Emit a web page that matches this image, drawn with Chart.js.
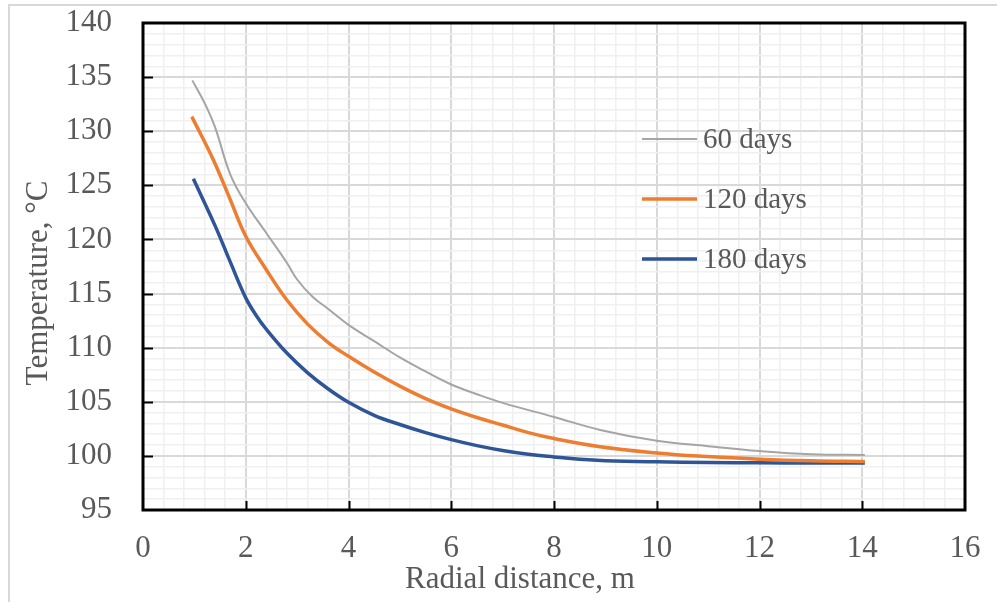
<!DOCTYPE html>
<html lang="en">
<head>
  <meta charset="UTF-8" />
  <title>Temperature vs radial distance</title>
  <script src="https://cdn.jsdelivr.net/npm/chart.js"></script>
  <style>
    body {
      margin: 0;
      background: #fff;
    }
    #frame {
      position: absolute;
      left: 8px;
      top: 4px;
      width: 1000px;
      height: 620px;
      border-left: 2px solid #d9d9d9;
      border-top: 2px solid #d9d9d9;
    }
    canvas {
      position: absolute;
      left: 0;
      top: 0;
    }
  </style>
</head>
<body>
  <div id="frame"></div>
  <canvas id="grafico" width="997" height="602"></canvas>

  <script>
    // radial distance (m) and temperature (°C) for each period
    const r60 = [0.96, 1.2, 1.4, 1.7, 2.0, 2.4, 2.8, 3.0, 3.3, 3.6, 4.0, 4.5, 5.0, 5.5, 6.0, 6.5, 7.0, 8.0, 8.9, 10.0, 11.0, 12.0, 13.0, 14.05];
    const t60 = [134.7, 132.6, 130.4, 126.0, 123.35, 120.6, 117.85, 116.3, 114.7, 113.6, 112.1, 110.6, 109.1, 107.8, 106.6, 105.7, 104.9, 103.6, 102.4, 101.4, 100.9, 100.45, 100.15, 100.08];

    const r120 = [0.95, 1.37, 1.7, 2.0, 2.4, 2.8, 3.2, 3.6, 4.0, 4.5, 5.0, 5.5, 6.0, 6.5, 7.0, 7.5, 8.0, 8.9, 10.0, 10.8, 12.0, 13.0, 14.05];
    const t120 = [131.35, 127.35, 123.66, 120.3, 117.2, 114.4, 112.2, 110.5, 109.2, 107.75, 106.45, 105.3, 104.35, 103.55, 102.85, 102.15, 101.6, 100.85, 100.27, 99.98, 99.7, 99.55, 99.48];

    const r180 = [0.98, 1.4, 1.7, 2.0, 2.2, 2.4, 2.8, 3.2, 3.6, 4.0, 4.5, 5.0, 5.5, 6.0, 6.5, 7.0, 7.5, 8.0, 8.5, 9.0, 10.0, 11.0, 12.0, 13.0, 14.05];
    const t180 = [125.6, 121.3, 117.9, 114.6, 113.0, 111.7, 109.5, 107.7, 106.2, 104.95, 103.75, 102.9, 102.15, 101.5, 100.95, 100.5, 100.15, 99.9, 99.68, 99.55, 99.45, 99.4, 99.36, 99.35, 99.35];

    const seriesLabels = ['60 days', '120 days', '180 days'];
    const seriesColors = ['#a5a5a5', '#ed7d31', '#2f5597'];
    const seriesWidths = [2, 3.5, 3.5];

    const xTitle = 'Radial distance, m';
    const yTitle = 'Temperature, °C';

    const textColor = '#595959';
    const fontFamily = "'Liberation Serif', 'Times New Roman', serif";

    function pts(xs, ys) {
      return xs.map((x, i) => ({ x: x, y: ys[i] }));
    }

    function isMultiple(v, step) {
      const q = v / step;
      return Math.abs(q - Math.round(q)) < 1e-6;
    }

    // frame, inward tick marks, axis titles and legend
    const decor = {
      id: 'decor',
      afterDraw(chart) {
        const ctx = chart.ctx;
        const a = chart.chartArea;
        const xs = chart.scales.x, ys = chart.scales.y;
        ctx.save();

        ctx.strokeStyle = '#000';
        ctx.lineWidth = 2;
        ctx.beginPath();
        for (let v = 2; v < 16; v += 2) {
          const px = Math.round(xs.getPixelForValue(v)) + 0.5;
          ctx.moveTo(px, a.bottom);
          ctx.lineTo(px, a.bottom - 9);
        }
        for (let v = 100; v < 140; v += 5) {
          const py = Math.round(ys.getPixelForValue(v)) + 0.5;
          ctx.moveTo(a.left, py);
          ctx.lineTo(a.left + 10, py);
        }
        ctx.stroke();

        ctx.lineWidth = 3;
        ctx.strokeRect(a.left, a.top, a.right - a.left, a.bottom - a.top);

        ctx.fillStyle = textColor;
        ctx.font = '31px ' + fontFamily;
        ctx.textAlign = 'center';
        ctx.textBaseline = 'alphabetic';
        ctx.fillText(xTitle, 520, 588);

        ctx.save();
        ctx.translate(47, 283);
        ctx.rotate(-Math.PI / 2);
        ctx.fillText(yTitle, 0, 0);
        ctx.restore();

        // legend
        ctx.font = '29px ' + fontFamily;
        ctx.textAlign = 'left';
        ctx.textBaseline = 'middle';
        chart.data.datasets.forEach((ds, i) => {
          const y = 139 + i * 60;
          ctx.strokeStyle = ds.borderColor;
          ctx.lineWidth = ds.borderWidth;
          ctx.beginPath();
          ctx.moveTo(642, y);
          ctx.lineTo(697, y);
          ctx.stroke();
          ctx.fillText(ds.label, 703, y + 1);
        });

        ctx.restore();
      }
    };

    const ctx = document.getElementById('grafico').getContext('2d');
    new Chart(ctx, {
      type: 'line',
      data: {
        datasets: [
          { label: seriesLabels[0], data: pts(r60, t60) },
          { label: seriesLabels[1], data: pts(r120, t120) },
          { label: seriesLabels[2], data: pts(r180, t180) }
        ].map((d, i) => Object.assign(d, {
          borderColor: seriesColors[i],
          borderWidth: seriesWidths[i],
          pointRadius: 0,
          fill: false,
          tension: 0.4
        }))
      },
      options: {
        responsive: false,
        devicePixelRatio: 1,
        animation: false,
        layout: { padding: { top: 23, right: 32, left: 0, bottom: 0 } },
        plugins: {
          legend: { display: false },
          tooltip: { enabled: false }
        },
        scales: {
          x: {
            type: 'linear',
            min: 0,
            max: 16,
            afterFit: s => {
              s.height = 92;
              s.paddingLeft = 0;
              s.paddingRight = 0;
            },
            border: { display: false },
            grid: {
              drawTicks: false,
              color: c => isMultiple(c.tick.value, 2) ? '#d9d9d9' : '#f0f0f0',
              lineWidth: c => isMultiple(c.tick.value, 2) ? 2 : 1.5
            },
            ticks: {
              stepSize: 0.4,
              autoSkip: false,
              maxRotation: 0,
              padding: 20,
              color: textColor,
              font: { family: fontFamily, size: 31 },
              callback: v => isMultiple(v, 2) ? String(Math.round(v)) : ''
            }
          },
          y: {
            type: 'linear',
            min: 95,
            max: 140,
            afterFit: s => {
              s.width = 143;
              s.paddingTop = 0;
              s.paddingBottom = 0;
            },
            border: { display: false },
            grid: {
              drawTicks: false,
              color: c => isMultiple(c.tick.value, 5) ? '#d9d9d9' : '#f0f0f0',
              lineWidth: c => isMultiple(c.tick.value, 5) ? 2 : 1.5
            },
            ticks: {
              stepSize: 1,
              autoSkip: false,
              padding: 31,
              color: textColor,
              font: { family: fontFamily, size: 31 },
              callback: v => isMultiple(v, 5) ? String(Math.round(v)) : ''
            }
          }
        }
      },
      plugins: [decor]
    });
  </script>
</body>
</html>
